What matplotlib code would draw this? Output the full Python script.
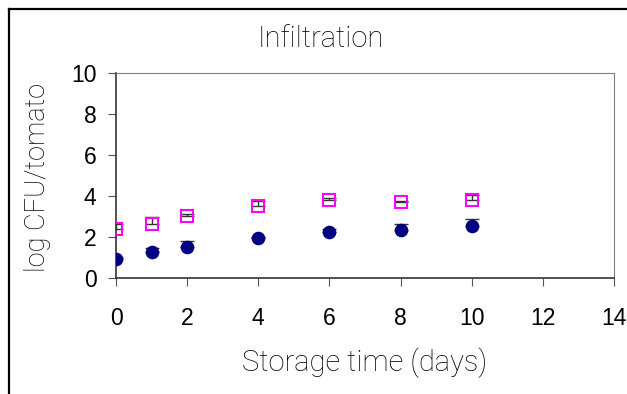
import numpy as np
import matplotlib.pyplot as plt
from matplotlib.lines import Line2D

plt.rcParams['font.family'] = ['Liberation Sans', 'DejaVu Sans']

# data
days = [0, 1, 2, 4, 6, 8, 10]
blue_mean = [0.95, 1.25, 1.53, 1.94, 2.23, 2.33, 2.52]
blue_err = [0.09, 0.20, 0.29, 0.07, 0.17, 0.29, 0.37]
pink_mean = [2.40, 2.62, 3.01, 3.50, 3.79, 3.69, 3.79]
pink_err = [0.22, 0.37, 0.10, 0.27, 0.10, 0.08, 0.26]

xticks = [0, 2, 4, 6, 8, 10, 12, 14]
yticks = [0, 2, 4, 6, 8, 10]

W, H = 627, 394
fig = plt.figure(figsize=(W / 100, H / 100), dpi=100)
ax = fig.add_axes([116 / W, 1 - 278 / H, 498 / W, 205 / H])

# error bars (upper half only), behind the markers
zero = np.zeros(len(days))
ax.errorbar(days, blue_mean, yerr=[zero, blue_err], fmt='none',
            ecolor='#333333', elinewidth=1, capsize=4.8, capthick=1, zorder=2)
ax.errorbar(days, pink_mean, yerr=[zero, pink_err], fmt='none',
            ecolor='#333333', elinewidth=1, capsize=4.8, capthick=1, zorder=2)

ax.plot(days, blue_mean, 'o', color='#000080', markersize=8.8, zorder=3)
ax.plot(days, pink_mean, 's', mfc='none', mec='#FF00FF', mew=1.5,
        markersize=8.5, zorder=3)

ax.set_xlim(0, 14)
ax.set_ylim(0, 10)
ax.set_xticks(xticks)
ax.set_yticks(yticks)
ax.tick_params(direction='out', length=6, width=0.8, color='#555555',
               labelsize=16.5, pad=15)
ax.tick_params(axis='y', pad=8)

for s in ['top', 'right']:
    ax.spines[s].set_color('#808080')
    ax.spines[s].set_linewidth(0.8)
for s in ['left', 'bottom']:
    ax.spines[s].set_color('#333333')
    ax.spines[s].set_linewidth(1.2)

lab = dict(family=['Roboto', 'Liberation Sans'], fontweight='light', color='black')
fig.text(321 / W, 1 - 47 / H, 'Infiltration', ha='center', va='baseline',
         fontsize=21, **lab)
fig.text(365 / W, 1 - 371 / H, 'Storage time (days)', ha='center', va='baseline',
         fontsize=21, **lab)
fig.text(38 / W, 1 - 177 / H, 'log CFU/tomato', ha='center', va='center',
         rotation=90, fontsize=19.5, **lab)

# outer frame (top and left edges)
fig.add_artist(Line2D([9 / W, 9 / W], [0, 1 - 9 / H], color='black', lw=1.6))
fig.add_artist(Line2D([9 / W, 1], [1 - 9 / H, 1 - 9 / H], color='black', lw=1.6))

fig.savefig('out.png', dpi=100)
